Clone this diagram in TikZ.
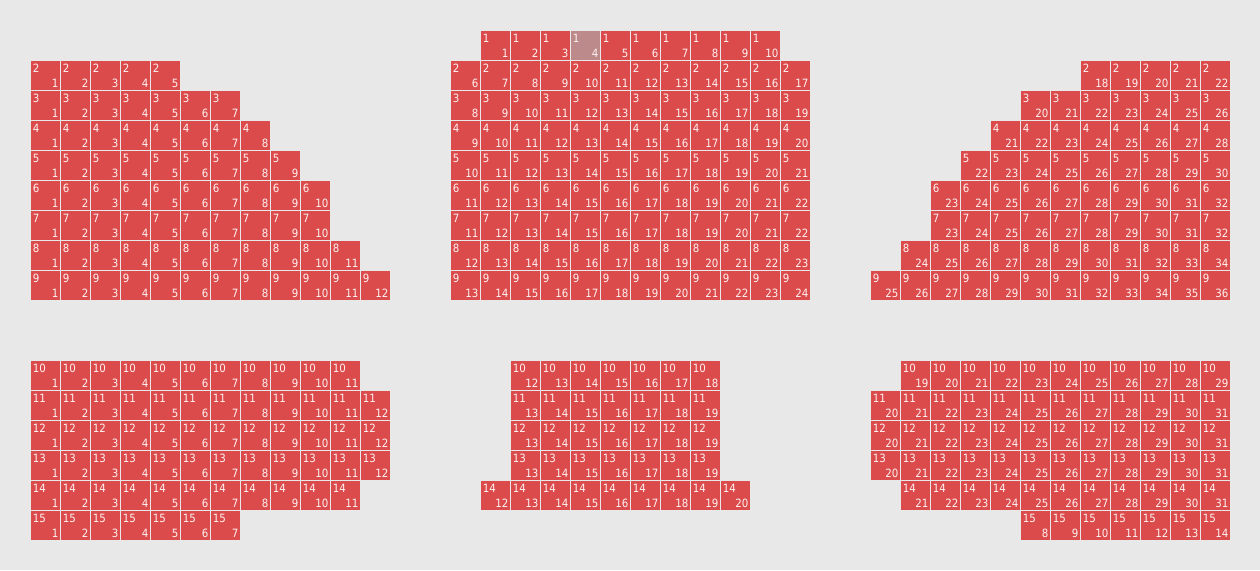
\documentclass[tikz,border=0pt]{standalone}
\usepackage{fontspec}
\setmainfont{DejaVu Sans}
\newfontfamily\seatfont{DejaVu Sans Condensed}
\definecolor{bg}{HTML}{E8E8E8}
\definecolor{seatred}{HTML}{DB4B4B}
\definecolor{soldgrey}{HTML}{BC8A8A}
\definecolor{txt}{HTML}{FFF2F2}
\tikzset{
  seatbox/.style={draw=none, minimum width=29pt, minimum height=29pt, inner sep=0pt, outer sep=0pt, anchor=north west},
  rowlab/.style={anchor=base west, inner sep=0pt, text=txt, font=\seatfont\fontsize{11.4}{11.4}\selectfont},
  seatlab/.style={anchor=base east, inner sep=0pt, text=txt, font=\seatfont\fontsize{11.4}{11.4}\selectfont}
}
% #1 block, #2 row, #3 x, #4 y, #5 first seat, #6 count, #7 sold seat (0 = none)
\newcommand\seatrow[7]{%
  \foreach \i in {1,...,#6}{%
    \pgfmathtruncatemacro\sx{#3+30*(\i-1)}%
    \pgfmathtruncatemacro\sn{#5+\i-1}%
    \ifnum\sn=#7 \def\sc{soldgrey}\else\def\sc{seatred}\fi
    \node[seatbox, fill=\sc] (#1-#2-\sn) at (\sx+1, #4+1) {};
    \node[rowlab] (#1-#2-\sn-r) at ([xshift=1.6pt, yshift=-11.3pt]#1-#2-\sn.north west) {#2};
    \node[seatlab] (#1-#2-\sn-n) at ([xshift=-1.5pt, yshift=2.2pt]#1-#2-\sn.south east) {\sn};
  }%
}
\begin{document}
\begin{tikzpicture}[x=1pt, y=-1pt]
\fill[bg] (0,0) rectangle (1260,570);
\useasboundingbox (0,0) rectangle (1260,570);
% Block A (top left)
\seatrow{A}{2}{30}{60}{1}{5}{0}
\seatrow{A}{3}{30}{90}{1}{7}{0}
\seatrow{A}{4}{30}{120}{1}{8}{0}
\seatrow{A}{5}{30}{150}{1}{9}{0}
\seatrow{A}{6}{30}{180}{1}{10}{0}
\seatrow{A}{7}{30}{210}{1}{10}{0}
\seatrow{A}{8}{30}{240}{1}{11}{0}
\seatrow{A}{9}{30}{270}{1}{12}{0}
% Block B (top middle)
\seatrow{B}{1}{480}{30}{1}{10}{4}
\seatrow{B}{2}{450}{60}{6}{12}{0}
\seatrow{B}{3}{450}{90}{8}{12}{0}
\seatrow{B}{4}{450}{120}{9}{12}{0}
\seatrow{B}{5}{450}{150}{10}{12}{0}
\seatrow{B}{6}{450}{180}{11}{12}{0}
\seatrow{B}{7}{450}{210}{11}{12}{0}
\seatrow{B}{8}{450}{240}{12}{12}{0}
\seatrow{B}{9}{450}{270}{13}{12}{0}
% Block C (top right)
\seatrow{C}{2}{1080}{60}{18}{5}{0}
\seatrow{C}{3}{1020}{90}{20}{7}{0}
\seatrow{C}{4}{990}{120}{21}{8}{0}
\seatrow{C}{5}{960}{150}{22}{9}{0}
\seatrow{C}{6}{930}{180}{23}{10}{0}
\seatrow{C}{7}{930}{210}{23}{10}{0}
\seatrow{C}{8}{900}{240}{24}{11}{0}
\seatrow{C}{9}{870}{270}{25}{12}{0}
% Block D (bottom left)
\seatrow{D}{10}{30}{360}{1}{11}{0}
\seatrow{D}{11}{30}{390}{1}{12}{0}
\seatrow{D}{12}{30}{420}{1}{12}{0}
\seatrow{D}{13}{30}{450}{1}{12}{0}
\seatrow{D}{14}{30}{480}{1}{11}{0}
\seatrow{D}{15}{30}{510}{1}{7}{0}
% Block E (bottom middle)
\seatrow{E}{10}{510}{360}{12}{7}{0}
\seatrow{E}{11}{510}{390}{13}{7}{0}
\seatrow{E}{12}{510}{420}{13}{7}{0}
\seatrow{E}{13}{510}{450}{13}{7}{0}
\seatrow{E}{14}{480}{480}{12}{9}{0}
% Block F (bottom right)
\seatrow{F}{10}{900}{360}{19}{11}{0}
\seatrow{F}{11}{870}{390}{20}{12}{0}
\seatrow{F}{12}{870}{420}{20}{12}{0}
\seatrow{F}{13}{870}{450}{20}{12}{0}
\seatrow{F}{14}{900}{480}{21}{11}{0}
\seatrow{F}{15}{1020}{510}{8}{7}{0}
\end{tikzpicture}
\end{document}
